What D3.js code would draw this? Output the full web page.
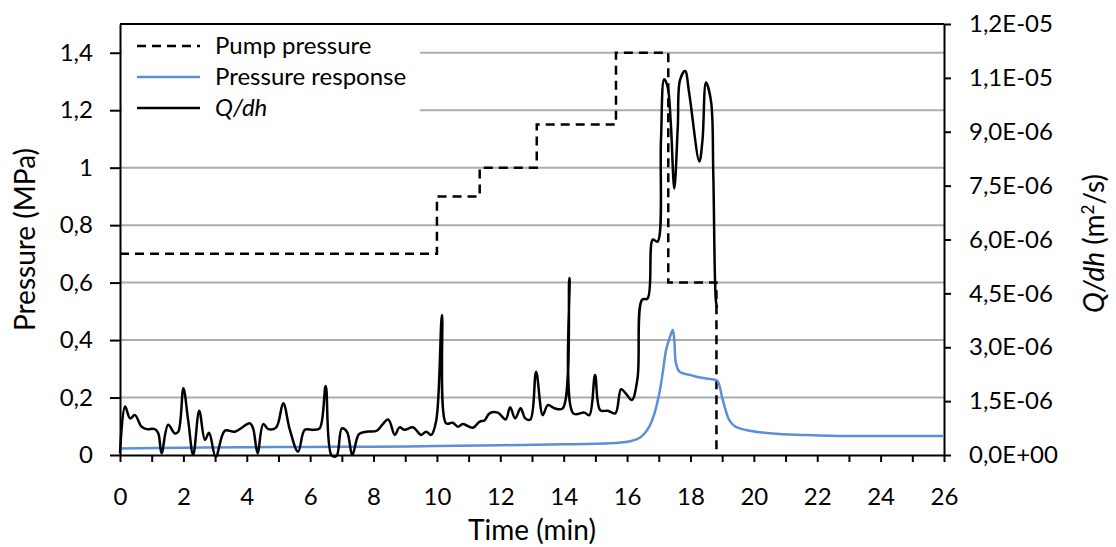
<!DOCTYPE html>
<html>
<head>
<meta charset="utf-8">
<script src="https://cdn.jsdelivr.net/npm/d3@7"></script>
<style>
  body { margin: 0; background: #fff; }
  svg text { font-family: Lato, "Open Sans", sans-serif; fill: #000; }
</style>
</head>
<body>
<script>
// time axis (min)
let xTicks = d3.range(0, 27, 1)
let leftTicks = [0, 0.2, 0.4, 0.6, 0.8, 1, 1.2, 1.4]
let rightTicks = [0, 1.5, 3, 4.5, 6, 7.5, 9, 10.5, 12]   // x 1E-06 m2/s

// pump pressure (MPa), step changes
let pumpTime = [0, 10, 11.35, 13.15, 15.65, 17.3, 18.82]
let pumpValue = [0.7, 0.9, 1.0, 1.15, 1.4, 0.6, 0]

// pressure response (MPa)
let respTime = [0, 2, 4, 6, 8, 10, 12, 14, 15, 15.76, 16.1, 16.39, 16.55, 16.7, 16.85, 17.02, 17.13, 17.23, 17.35, 17.44,
    17.49, 17.54, 17.65, 17.8, 18, 18.3, 18.6, 18.85, 18.92, 19, 19.1, 19.22, 19.4, 19.75, 20.2, 20.8, 21.5, 22.4, 24, 26]
let respValue = [0.023, 0.025, 0.027, 0.028, 0.029, 0.031, 0.034, 0.037, 0.039, 0.043, 0.048, 0.059, 0.075, 0.099, 0.14, 0.216, 0.29, 0.365, 0.41, 0.435,
    0.4, 0.32, 0.29, 0.283, 0.278, 0.27, 0.265, 0.258, 0.24, 0.2, 0.16, 0.122, 0.1, 0.087, 0.079, 0.073, 0.07, 0.067, 0.066, 0.066]

// Q/dh (x 1E-06 m2/s)
let qTime = [0, 0.16, 0.32, 0.47, 0.68, 0.84, 1.1, 1.21, 1.31, 1.52, 1.73, 1.84, 2, 2.15, 2.31, 2.5, 2.68, 2.81, 3.02, 3.31,
    3.62, 4.1, 4.2, 4.34, 4.52, 4.68, 4.93, 5.15, 5.36, 5.62, 5.83, 6.09, 6.3, 6.49, 6.67, 6.83, 7, 7.16, 7.33, 7.54,
    7.77, 8.09, 8.46, 8.67, 8.82, 8.98, 9.24, 9.5, 9.66, 9.82, 9.98, 10.16, 10.29, 10.5, 10.66, 10.82, 11.13, 11.35, 11.5, 11.66,
    11.92, 12.17, 12.31, 12.47, 12.64, 12.79, 12.95, 13.13, 13.34, 13.5, 13.71, 13.97, 14.18, 14.3, 14.65, 14.81, 14.99, 15.15, 15.39, 15.63,
    15.81, 15.97, 16.15, 16.33, 16.47, 16.65, 16.81, 16.96, 17.07, 17.17, 17.28, 17.38, 17.49, 17.6, 17.67, 17.83, 17.96, 18.28, 18.38, 18.49,
    18.65, 18.72, 18.8, 18.84]
let qValue = [0.05, 1.35, 1.02, 1.11, 0.79, 0.72, 0.72, 0.6, 0.05, 0.84, 0.6, 0.65, 1.86, 0.97, 0, 1.23, 0.42, 0.62, -0.05, 0.68,
    0.65, 0.88, 0.74, 0.05, 0.86, 0.72, 0.77, 1.44, 0.7, 0.09, 0.7, 0.7, 0.74, 1.92, 0, -0.03, 0.74, 0.65, 0, 0.58,
    0.65, 0.67, 0.99, 0.56, 0.77, 0.7, 0.77, 0.56, 0.65, 0.56, 0.97, 3.9, 0.88, 0.9, 0.79, 0.86, 0.76, 0.93, 0.96, 1.16,
    1.18, 0.99, 1.33, 1.02, 1.3, 1.02, 0.99, 2.32, 1.11, 1.39, 1.3, 1.3, 4.93, 1.16, 1.18, 1.11, 2.23, 1.25, 1.23, 1.16,
    1.83, 1.7, 1.53, 2.14, 4.32, 4.36, 6.0, 5.94, 8.77, 10.46, 10.25, 9.23, 7.42, 9.14, 10.44, 10.69, 10.07, 8.17, 8.77, 10.37,
    9.84, 7.84, 4.32, 4.1]

// setup canvas
let width = 1116
let height = 547
let pLeft = 120, pRight = 944, pTop = 24, pBottom = 455

let svg = d3.select("body").append("svg")
    .attr("width", width)
    .attr("height", height)

let x = d3.scaleLinear().domain([0, 26]).range([pLeft, pRight])
let yL = d3.scaleLinear().domain([0, 1.5]).range([pBottom, pTop])
let yR = d3.scaleLinear().domain([0, 12]).range([pBottom, pTop])

// gridlines
svg.append("g")
    .selectAll("line")
    .data(leftTicks.slice(1))
    .enter()
    .append("line")
        .attr("x1", pLeft).attr("x2", pRight)
        .attr("y1", d => yL(d)).attr("y2", d => yL(d))
        .attr("stroke", "#acacac")
        .attr("stroke-width", 2)

let fmtLeft = d => String(+d.toFixed(1)).replace(".", ",")
let fmtRight = function(d) {
    if (d == 0) return "0,0E+00"
    let e = Math.floor(Math.log10(d))
    let m = Math.round(d * 10 / Math.pow(10, e))
    let ex = e - 6
    let s = (m / 10).toFixed(1).replace(".", ",")
    return s + "E" + (ex < 0 ? "-" : "+") + String(Math.abs(ex)).padStart(2, "0")
}

// axes
let axL = svg.append("g")
    .attr("transform", `translate(${pLeft},0)`)
    .call(d3.axisLeft(yL).tickValues(leftTicks).tickFormat(fmtLeft).tickSize(10).tickSizeOuter(0).tickPadding(17))
let axR = svg.append("g")
    .attr("transform", `translate(${pRight},0)`)
    .call(d3.axisRight(yR).tickValues(rightTicks).tickFormat(fmtRight).tickSize(7).tickSizeOuter(0).tickPadding(18))
let axB = svg.append("g")
    .attr("transform", `translate(0,${pBottom})`)
    .call(d3.axisBottom(x).tickValues(xTicks).tickFormat(d => d % 2 == 0 ? d : "").tickSize(7).tickSizeOuter(0).tickPadding(26))

for (let ax of [axL, axR, axB]) {
    ax.selectAll("path.domain").attr("stroke", "#000").attr("stroke-width", 2)
    ax.selectAll(".tick line").attr("stroke", "#000").attr("stroke-width", 2)
    ax.selectAll("text").style("font-size", "24px").attr("font-family", null)
}

// top border of plot area
svg.append("line")
    .attr("x1", pLeft).attr("x2", pRight)
    .attr("y1", pTop).attr("y2", pTop)
    .attr("stroke", "#000").attr("stroke-width", 2)

// series
let pumpLine = d3.line()
    .x(d => x(d[0])).y(d => yL(d[1]))
    .curve(d3.curveStepAfter)
svg.append("path")
    .datum(d3.zip(pumpTime, pumpValue))
    .attr("d", pumpLine)
    .attr("fill", "none")
    .attr("stroke", "#000")
    .attr("stroke-width", 2.5)
    .attr("stroke-dasharray", "9,6")

let smoothL = d3.line()
    .x(d => x(d[0])).y(d => yL(d[1]))
    .curve(d3.curveCatmullRom.alpha(0.5))
svg.append("path")
    .datum(d3.zip(respTime, respValue))
    .attr("d", smoothL)
    .attr("fill", "none")
    .attr("stroke", "#5b8fd6")
    .attr("stroke-width", 2.5)

let smoothR = d3.line()
    .x(d => x(d[0])).y(d => yR(d[1]))
    .curve(d3.curveCatmullRom.alpha(0.5))
svg.append("path")
    .datum(d3.zip(qTime, qValue))
    .attr("d", smoothR)
    .attr("fill", "none")
    .attr("stroke", "#000")
    .attr("stroke-width", 2.5)

// legend
let legend = svg.append("g")
legend.append("rect")
    .attr("x", 122).attr("y", 28)
    .attr("width", 298).attr("height", 97)
    .attr("fill", "#fff")
let items = [
    { label: "Pump pressure", color: "#000", dash: "9,6", italic: false },
    { label: "Pressure response", color: "#5b8fd6", dash: null, italic: false },
    { label: "Q/dh", color: "#000", dash: null, italic: true }
]
items.forEach(function(d, i) {
    let ly = 46 + i * 31
    legend.append("line")
        .attr("x1", 137).attr("x2", 200)
        .attr("y1", ly).attr("y2", ly)
        .attr("stroke", d.color)
        .attr("stroke-width", 2.5)
        .attr("stroke-dasharray", d.dash)
    legend.append("text")
        .attr("x", 215).attr("y", ly + 8)
        .style("font-size", "24px")
        .style("font-style", d.italic ? "italic" : "normal")
        .text(d.label)
})

// axis titles
svg.append("text")
    .attr("transform", `translate(35,${(pTop + pBottom) / 2}) rotate(-90)`)
    .attr("text-anchor", "middle")
    .style("font-size", "28px")
    .text("Pressure (MPa)")

let rt = svg.append("text")
    .attr("transform", `translate(1104,${(pTop + pBottom) / 2 + 4}) rotate(-90)`)
    .attr("text-anchor", "middle")
    .style("font-size", "28px")
rt.append("tspan").style("font-style", "italic").text("Q/dh")
rt.append("tspan").text(" (m")
rt.append("tspan").attr("baseline-shift", "super").style("font-size", "17px").text("2")
rt.append("tspan").text("/s)")

svg.append("text")
    .attr("x", (pLeft + pRight) / 2).attr("y", 540)
    .attr("text-anchor", "middle")
    .style("font-size", "28px")
    .text("Time (min)")
</script>
</body>
</html>
